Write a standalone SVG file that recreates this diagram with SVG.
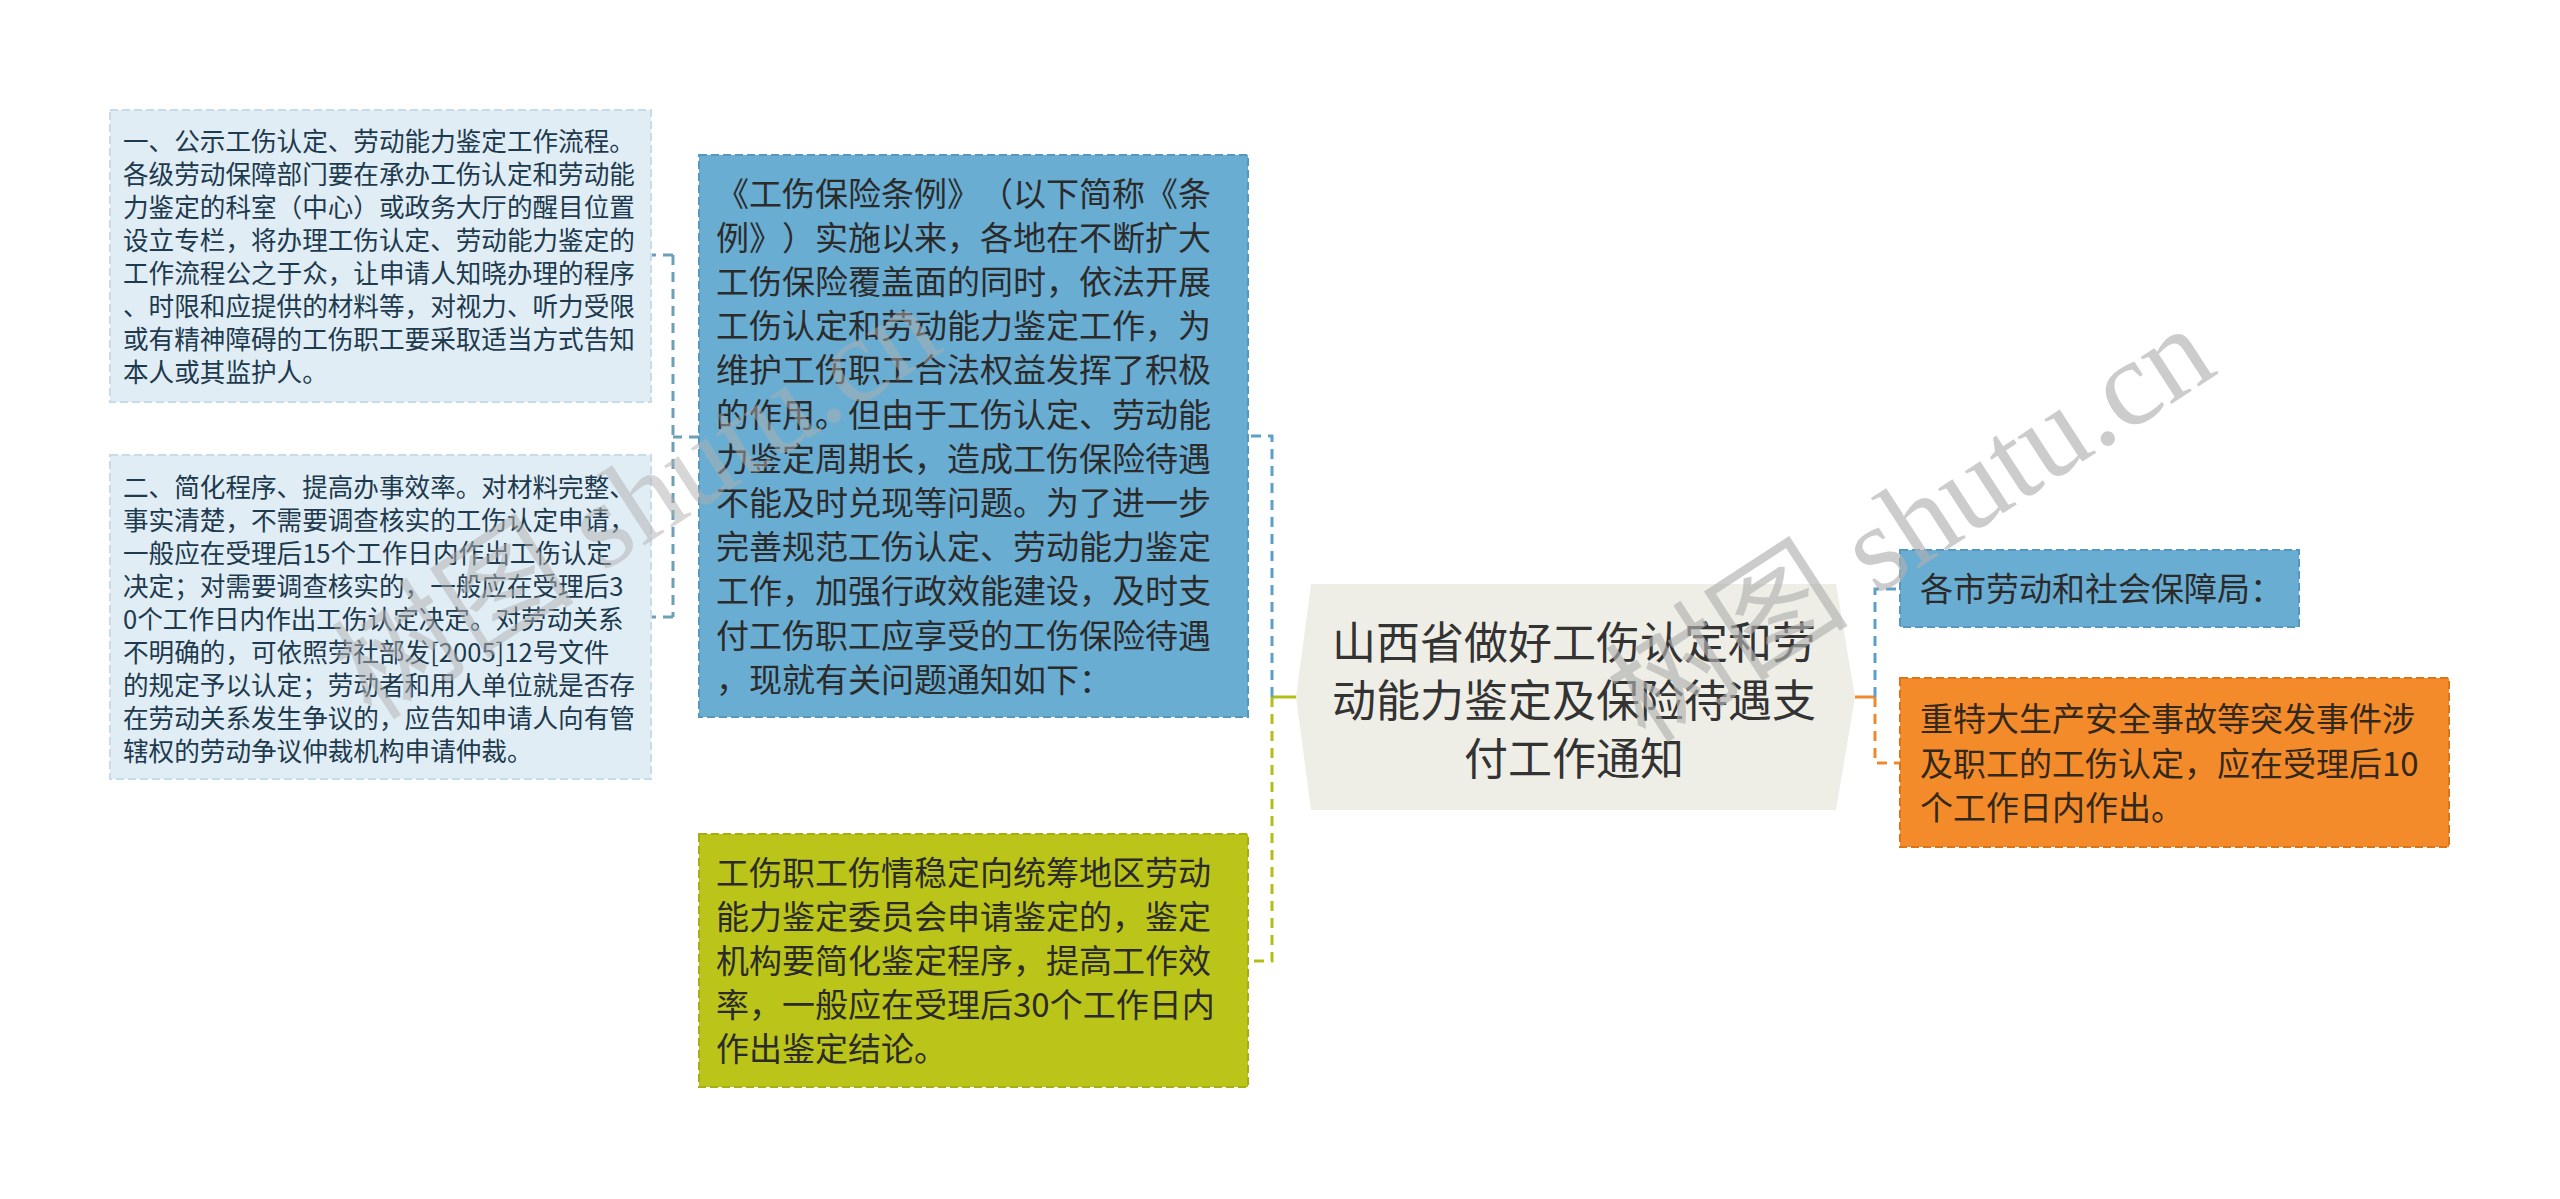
<svg xmlns="http://www.w3.org/2000/svg" width="2560" height="1199" viewBox="0 0 2560 1199">
<style>
.t{font-family:"Noto Sans CJK SC","Noto Sans",sans-serif;text-spacing-trim:space-all;}
.s{font-size:25.6px;fill:#1e3a4e;}
.m{font-size:33px;fill:#2b2b2b;}
.r{font-size:44px;fill:#333333;}
.lb{fill:#e0edf5;stroke:#c6dcea;stroke-width:2;stroke-dasharray:8 4;}
.bl{fill:#69add3;stroke:#5497c0;stroke-width:2;stroke-dasharray:8 4;}
.gr{fill:#bbc418;stroke:#a6ae10;stroke-width:2;stroke-dasharray:8 4;}
.or{fill:#f38b2b;stroke:#dd7518;stroke-width:2;stroke-dasharray:8 4;}
.c{fill:none;stroke-width:3;}
.d{stroke-dasharray:10 7;}
.wm{font-family:"Liberation Serif","Noto Sans CJK SC",serif;font-size:122px;fill:#b0b0b0;fill-opacity:0.65;}
</style>
<rect width="2560" height="1199" fill="#ffffff"/>
<g id="connectors">
  <path class="c d" d="M699 437 H673 M673 255 V617 M673 255 H651 M673 617 H651" stroke="#6d9fb8" stroke-width="2"/>
  <path class="c" d="M1296 697 H1272" stroke="#b5be17"/>
  <path class="c d" d="M1272 697 V436 H1248" stroke="#5ba0c8"/>
  <path class="c d" d="M1272 697 V961 H1248" stroke="#b5be17"/>
  <path class="c" d="M1855 697 H1875" stroke="#ee8a2c"/>
  <path class="c d" d="M1875 697 V589 H1900" stroke="#5ba0c8"/>
  <path class="c d" d="M1875 697 V763 H1900" stroke="#ee8a2c"/>
</g>
<g id="node1">
  <rect class="lb" x="110" y="110" width="541" height="292"/>
  <text class="t s" x="123"><tspan x="123" y="151">一、公示工伤认定、劳动能力鉴定工作流程。</tspan><tspan x="123" y="184">各级劳动保障部门要在承办工伤认定和劳动能</tspan><tspan x="123" y="217">力鉴定的科室（中心）或政务大厅的醒目位置</tspan><tspan x="123" y="250">设立专栏，将办理工伤认定、劳动能力鉴定的</tspan><tspan x="123" y="283">工作流程公之于众，让申请人知晓办理的程序</tspan><tspan x="123" y="316">、时限和应提供的材料等，对视力、听力受限</tspan><tspan x="123" y="349">或有精神障碍的工伤职工要采取适当方式告知</tspan><tspan x="123" y="382">本人或其监护人。</tspan></text>
</g>
<g id="node2">
  <rect class="lb" x="110" y="455" width="541" height="324"/>
  <text class="t s" x="123"><tspan x="123" y="497">二、简化程序、提高办事效率。对材料完整、</tspan><tspan x="123" y="530">事实清楚，不需要调查核实的工伤认定申请，</tspan><tspan x="123" y="563">一般应在受理后15个工作日内作出工伤认定</tspan><tspan x="123" y="596">决定；对需要调查核实的，一般应在受理后3</tspan><tspan x="123" y="629">0个工作日内作出工伤认定决定。对劳动关系</tspan><tspan x="123" y="662">不明确的，可依照劳社部发[2005]12号文件</tspan><tspan x="123" y="695">的规定予以认定；劳动者和用人单位就是否存</tspan><tspan x="123" y="728">在劳动关系发生争议的，应告知申请人向有管</tspan><tspan x="123" y="761">辖权的劳动争议仲裁机构申请仲裁。</tspan></text>
</g>
<g id="node3">
  <rect class="bl" x="699" y="155" width="549" height="562"/>
  <text class="t m"><tspan x="716" y="206">《工伤保险条例》（以下简称《条</tspan><tspan x="716" y="250">例》）实施以来，各地在不断扩大</tspan><tspan x="716" y="294">工伤保险覆盖面的同时，依法开展</tspan><tspan x="716" y="338">工伤认定和劳动能力鉴定工作，为</tspan><tspan x="716" y="382">维护工伤职工合法权益发挥了积极</tspan><tspan x="716" y="427">的作用。但由于工伤认定、劳动能</tspan><tspan x="716" y="471">力鉴定周期长，造成工伤保险待遇</tspan><tspan x="716" y="515">不能及时兑现等问题。为了进一步</tspan><tspan x="716" y="559">完善规范工伤认定、劳动能力鉴定</tspan><tspan x="716" y="603">工作，加强行政效能建设，及时支</tspan><tspan x="716" y="648">付工伤职工应享受的工伤保险待遇</tspan><tspan x="716" y="692">，现就有关问题通知如下：</tspan></text>
</g>
<g id="node4">
  <rect class="gr" x="699" y="834" width="549" height="253"/>
  <text class="t m"><tspan x="716" y="885">工伤职工伤情稳定向统筹地区劳动</tspan><tspan x="716" y="929">能力鉴定委员会申请鉴定的，鉴定</tspan><tspan x="716" y="973">机构要简化鉴定程序，提高工作效</tspan><tspan x="716" y="1017">率，一般应在受理后30个工作日内</tspan><tspan x="716" y="1061">作出鉴定结论。</tspan></text>
</g>
<g id="root">
  <polygon points="1296,697 1311,584 1836,584 1855,697 1836,810 1311,810" fill="#eeeee6"/>
  <text class="t r" text-anchor="middle"><tspan x="1574" y="659">山西省做好工伤认定和劳</tspan><tspan x="1574" y="717">动能力鉴定及保险待遇支</tspan><tspan x="1574" y="775">付工作通知</tspan></text>
</g>
<g id="node5">
  <rect class="bl" x="1900" y="550" width="399" height="77"/>
  <text class="t m" x="1920" y="601">各市劳动和社会保障局：</text>
</g>
<g id="node6">
  <rect class="or" x="1900" y="678" width="549" height="169"/>
  <text class="t m" style="fill:#33281c"><tspan x="1920" y="731">重特大生产安全事故等突发事件涉</tspan><tspan x="1920" y="776">及职工的工伤认定，应在受理后10</tspan><tspan x="1920" y="820">个工作日内作出。</tspan></text>
</g>
<g id="watermark">
  <text class="wm" style="fill-opacity:0.5" transform="translate(372 722) rotate(-33)">树图 shutu.cn</text>
  <text class="wm" transform="translate(1646 745) rotate(-33)">树图 shutu.cn</text>
</g>
</svg>
